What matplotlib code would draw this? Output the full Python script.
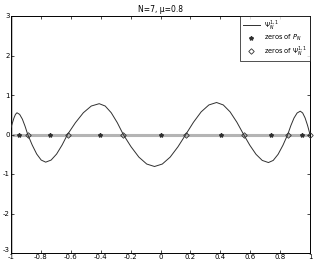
import matplotlib
matplotlib.use("Agg")
import matplotlib.pyplot as plt

# Curve Psi_N^{1,1}
psi_x = [-1.0, -0.99, -0.98, -0.97, -0.96, -0.942, -0.924, -0.906, -0.888,
         -0.858, -0.828, -0.798, -0.768, -0.7315, -0.695, -0.6585, -0.622,
         -0.569, -0.516, -0.463, -0.41, -0.370, -0.3295, -0.289, -0.249,
         -0.197, -0.1445, -0.092, -0.04, 0.012, 0.0645, 0.117, 0.169,
         0.2205, 0.272, 0.3235, 0.375, 0.420, 0.4655, 0.511, 0.556,
         0.5975, 0.639, 0.6805, 0.722, 0.754, 0.7865, 0.819, 0.851,
         0.872, 0.893, 0.914, 0.935, 0.951, 0.9675, 0.984, 1.0]
psi_y = [0.18, 0.30, 0.42, 0.51, 0.55, 0.508, 0.389, 0.210, 0.0,
         -0.268, -0.495, -0.647, -0.70, -0.647, -0.495, -0.268, 0.0,
         0.299, 0.551, 0.721, 0.78, 0.721, 0.551, 0.299, 0.0,
         -0.310, -0.573, -0.748, -0.81, -0.748, -0.573, -0.310, 0.0,
         0.310, 0.573, 0.748, 0.81, 0.748, 0.573, 0.310, 0.0,
         -0.272, -0.502, -0.656, -0.71, -0.656, -0.502, -0.272, 0.0,
         0.226, 0.417, 0.545, 0.59, 0.545, 0.417, 0.226, 0.0]

# zeros of P_N (N=7)
pn_zeros = [-0.9491, -0.7415, -0.4058, 0.0, 0.4058, 0.7415, 0.9491]
# zeros of Psi
psi_zeros = [-0.888, -0.622, -0.249, 0.169, 0.556, 0.851, 1.0]

xticks = [-1, -0.8, -0.6, -0.4, -0.2, 0, 0.2, 0.4, 0.6, 0.8, 1]
xticklabels = ['-1', '-0.8', '-0.6', '-0.4', '-0.2', '0', '0.2', '0.4', '0.6', '0.8', '1']
yticks = [-3, -2, -1, 0, 1, 2, 3]
yticklabels = ['-3', '-2', '-1', '0', '1', '2', '3']

fig = plt.figure(figsize=(3.16, 2.62), dpi=100)
ax = fig.add_axes([11/316, 9/262, 299/316, 237/262])

gray = '#b4b4b4'
ax.axhline(0, color=gray, lw=2.2, zorder=1)
ax.axvline(-1, color=gray, lw=2.6, zorder=1)

l1, = ax.plot(psi_x, psi_y, color='#303030', lw=0.7, zorder=3, label=r'$\Psi_N^{1,1}$')
l2, = ax.plot(pn_zeros, [0]*len(pn_zeros), ls='none', marker='*', ms=3.0,
              color='#303030', zorder=4, label=r'zeros of $P_N$')
l3, = ax.plot(psi_zeros, [0]*len(psi_zeros), ls='none', marker='D', ms=2.8,
              mfc='none', mec='#303030', mew=0.6, zorder=4, clip_on=False,
              label=r'zeros of $\Psi_N^{1,1}$')

ax.set_xlim(-1, 1)
ax.set_ylim(-3, 3)
ax.set_xticks(xticks)
ax.set_xticklabels(xticklabels)
ax.set_yticks(yticks)
ax.set_yticklabels(yticklabels)
ax.tick_params(direction='in', length=2.5, width=0.5, labelsize=5, pad=1,
               top=True, right=True)
ax.get_yticklabels()[0].set_va('bottom')
for s in ax.spines.values():
    s.set_linewidth(0.7)

ax.set_title('N=7, μ=0.8', fontsize=5.5, pad=3)

leg = ax.legend(loc='upper right', fontsize=4.8, frameon=True, fancybox=False,
                borderaxespad=0, handlelength=2.6, labelspacing=0.2,
                borderpad=0.35, handletextpad=0.6)
leg.get_frame().set_edgecolor('black')
leg.get_frame().set_linewidth(0.6)

fig.savefig('out.png', dpi=100)
